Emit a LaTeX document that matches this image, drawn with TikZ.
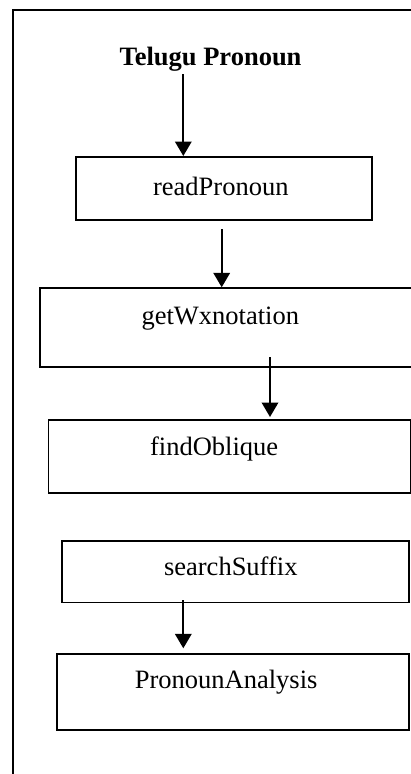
\documentclass[tikz,border=0pt]{standalone}
\usepackage{fontspec}
\setmainfont{Liberation Serif}
\usetikzlibrary{arrows.meta}

\begin{document}
\begin{tikzpicture}[x=1pt, y=-1pt, thick, >={Triangle[length=14.5pt, width=16.5pt]}]
      \tikzstyle{box}=[draw, line width=1.6pt, rectangle, inner sep=0pt, anchor=north west]
      \tikzstyle{lbl}=[anchor=base, inner sep=0pt, font=\fontsize{26.5}{30}\selectfont]
      \tikzstyle{flow}=[->, line width=2pt]

      \useasboundingbox (0,0) rectangle (411,774);
      \clip (0,0) rectangle (411,774);

      % Frame
      \draw[line width=2.4pt] (13,800) -- (13,10) -- (430,10);

      % Boxes
      \node[box, minimum width=296pt, minimum height=63pt]   (rp) at (75,156)    {};
      \node[box, minimum width=390pt, minimum height=78.7pt] (gw) at (39,287.3)  {};
      \node[box, minimum width=362pt, minimum height=73.3pt] (fo) at (47.7,419)  {};
      \node[box, minimum width=347.3pt, minimum height=61.7pt] (ss) at (61,540)  {};
      \node[box, minimum width=352.3pt, minimum height=76pt] (pa) at (56,653.3)  {};

      % Labels
      \node[lbl, font=\fontsize{26.5}{30}\selectfont\bfseries] (title) at (210.5,65) {Telugu Pronoun};
      \node[lbl] (rp-t) at (220.8,195)   {readPronoun};
      \node[lbl] (gw-t) at (220.3,324)   {getWxnotation};
      \node[lbl] (fo-t) at (214.2,455)   {findOblique};
      \node[lbl] (ss-t) at (230.8,575)   {searchSuffix};
      \node[lbl] (pa-t) at (226.2,688.3) {PronounAnalysis};

      % Edges
      \coordinate (a1) at (183.3,74);
      \coordinate (a2) at (221.7,229);
      \coordinate (a3) at (270,357);
      \coordinate (a4) at (183.3,600);
      \draw[flow] (a1) -- (a1 |- rp.north);
      \draw[flow] (a2) -- (a2 |- gw.north);
      \draw[flow, shorten >=2pt] (a3) -- (a3 |- fo.north);
      \draw[flow, shorten >=5pt] (a4) -- (a4 |- pa.north);
    \end{tikzpicture}
\end{document}
